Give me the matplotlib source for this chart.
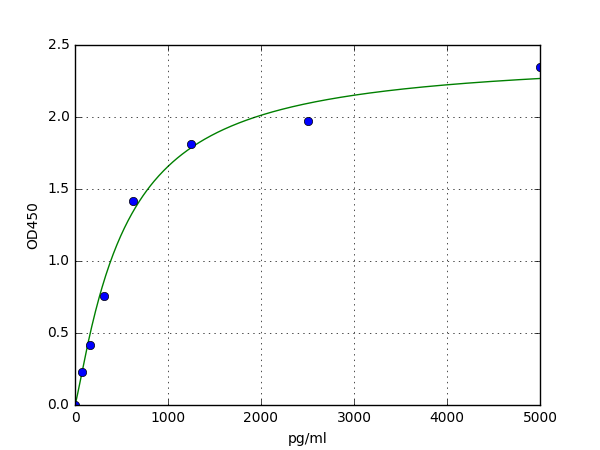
import matplotlib
matplotlib.use('Agg')
import matplotlib.pyplot as plt
import numpy as np

plt.style.use('classic')
plt.rcParams['font.size'] = 10

# standards (pg/ml) and measured OD450
conc = [0, 78, 156, 312, 625, 1250, 2500, 5000]
od = [0.0, 0.23, 0.42, 0.755, 1.42, 1.81, 1.97, 2.35]

# four parameter logistic fit (bottom, slope, ec50, top)
fit_bottom = 0.0
fit_slope = 1.17
fit_ec50 = 520.0
fit_top = 2.428


def logistic4(x):
    x = np.asarray(x, dtype=float)
    return fit_top + (fit_bottom - fit_top) / (1 + (x / fit_ec50) ** fit_slope)


fig = plt.figure(figsize=(6, 4.5), dpi=100)
ax = fig.add_subplot(111)

xs = np.linspace(0, max(conc), 500)
ax.plot(xs, logistic4(xs), 'g-')
ax.plot(conc, od, 'bo')

ax.set_xlim(0, 5000)
ax.set_ylim(0, 2.5)
ax.set_xticks([0, 1000, 2000, 3000, 4000, 5000])
ax.set_yticks([0.0, 0.5, 1.0, 1.5, 2.0, 2.5])
ax.grid(True)
ax.set_xlabel('pg/ml')
ax.set_ylabel('OD450')

fig.savefig('out.png')
